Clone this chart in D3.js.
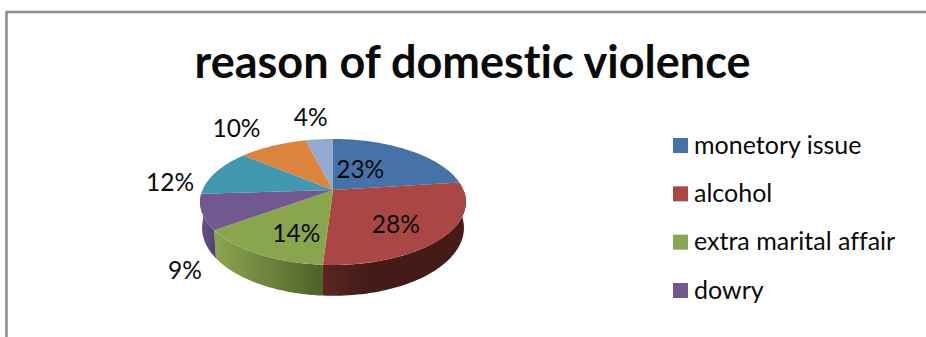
<!DOCTYPE html>
<html>
<head>
<meta charset="utf-8">
<script src="https://cdn.jsdelivr.net/npm/d3@7/dist/d3.min.js"></script>
<style>
  html, body { margin: 0; padding: 0; background: #fff; }
  svg { display: block; }
  text { font-family: Lato, "Open Sans", sans-serif; fill: #0a0a0a; font-variant-ligatures: none; }
</style>
</head>
<body>
<svg id="chart" width="926" height="337"></svg>
<script>
const title = "reason of domestic violence";
const categories = ["monetory issue", "alcohol", "extra marital affair", "dowry"];
const shares = [23, 28, 14, 9, 12, 10, 4];
const topColors = ["#4572A7", "#AA4643", "#89A54E", "#71588F", "#4198AF", "#DB843D", "#93A9CF"];

// Label placement relative to each slice: radial reach and angular shift in degrees.
const labelReach = [0.415, 0.677, 0.695, 1.4, 1.28, 1.54, 1.545];
const labelTurn = [-9, 7, -8, -30, -13, -4, -1];

const svg = d3.select("#chart");
const width = 926, height = 337;

// Tilted disc: a unit circle seen in perspective.
const centre = { x: 333, y: 190 };
const radius = 130.5, lift = 60.7, tilt = 0.19;
const depth = 25, footScale = 0.985;

function project(angle, reach = 1) {
  const u = Math.sin(angle) * reach, v = Math.cos(angle) * reach;
  const d = 1 + tilt * v;
  return { x: centre.x + radius * u / d, y: centre.y - lift * v / d, d };
}
function foot(angle) {
  const p = project(angle);
  return { x: centre.x + (p.x - centre.x) * footScale, y: p.y + depth / p.d };
}

const arcs = d3.pie().value(d => d).sort(null)(shares);
const toPath = d3.line().x(d => d.x).y(d => d.y);
const sweep = (a, b) => d3.range(0, 61).map(i => a + (b - a) * i / 60);

// Outer frame: only the left and top edges are visible.
svg.append("path")
  .attr("d", `M6.5 ${height} V12 H${width}`)
  .attr("fill", "none").attr("stroke", "#8c8c8c").attr("stroke-width", 2.5);

svg.append("text")
  .attr("x", 472.5).attr("y", 78)
  .attr("text-anchor", "middle")
  .attr("font-size", 45).attr("font-weight", 700)
  .text(title);

// Horizontal shading along the rim of the disc.
const defs = svg.append("defs");
const rimStops = [
  [["0%", "#65508a"], ["100%", "#57456f"]],
  [["0%", "#8aa650"], ["100%", "#4f6128"]],
  [["0%", "#5c2622"], ["30%", "#451b18"], ["100%", "#451b18"]]
];
[3, 2, 1].forEach((slice, i) => {
  const a = Math.max(arcs[slice].startAngle, Math.PI / 2);
  const b = Math.min(arcs[slice].endAngle, 3 * Math.PI / 2);
  const g = defs.append("linearGradient")
    .attr("id", `rim${slice}`)
    .attr("gradientUnits", "userSpaceOnUse")
    .attr("x1", project(b).x).attr("y1", 0)
    .attr("x2", project(a).x).attr("y2", 0);
  rimStops[i].forEach(s => g.append("stop").attr("offset", s[0]).attr("stop-color", s[1]));
});

const disc = svg.append("g");
[1, 2, 3].forEach(slice => {
  const a = Math.max(arcs[slice].startAngle, Math.PI / 2);
  const b = Math.min(arcs[slice].endAngle, 3 * Math.PI / 2);
  const pts = sweep(a, b);
  const outline = pts.map(t => project(t)).concat(pts.slice().reverse().map(foot));
  disc.append("path")
    .attr("d", toPath(outline) + "Z")
    .attr("fill", `url(#rim${slice})`);
});

disc.selectAll("path.face")
  .data(arcs)
  .join("path")
  .attr("class", "face")
  .attr("d", d => toPath([{ x: centre.x, y: centre.y }, ...sweep(d.startAngle, d.endAngle).map(t => project(t))]) + "Z")
  .attr("fill", (d, i) => topColors[i]);

// Percent labels.
svg.selectAll("text.pct")
  .data(arcs)
  .join("text")
  .attr("class", "pct")
  .attr("text-anchor", "middle")
  .attr("dominant-baseline", "central")
  .attr("font-size", 24.5)
  .each(function (d, i) {
    const mid = (d.startAngle + d.endAngle) / 2 + labelTurn[i] * Math.PI / 180;
    const p = project(mid, labelReach[i]);
    d3.select(this).attr("x", p.x).attr("y", p.y - 2);
  })
  .text(d => d.data + "%");

// Legend entries.
const legendY = d3.scalePoint().domain(d3.range(categories.length)).range([145.5, 290.5]);
const legend = svg.selectAll("g.key")
  .data(categories)
  .join("g")
  .attr("class", "key")
  .attr("transform", (d, i) => `translate(673,${legendY(i)})`);
legend.append("rect")
  .attr("x", 0).attr("y", -7.5).attr("width", 15).attr("height", 15)
  .attr("fill", (d, i) => topColors[i]);
legend.append("text")
  .attr("x", 21).attr("y", 8)
  .attr("font-size", 25)
  .text(d => d);
</script>
</body>
</html>
